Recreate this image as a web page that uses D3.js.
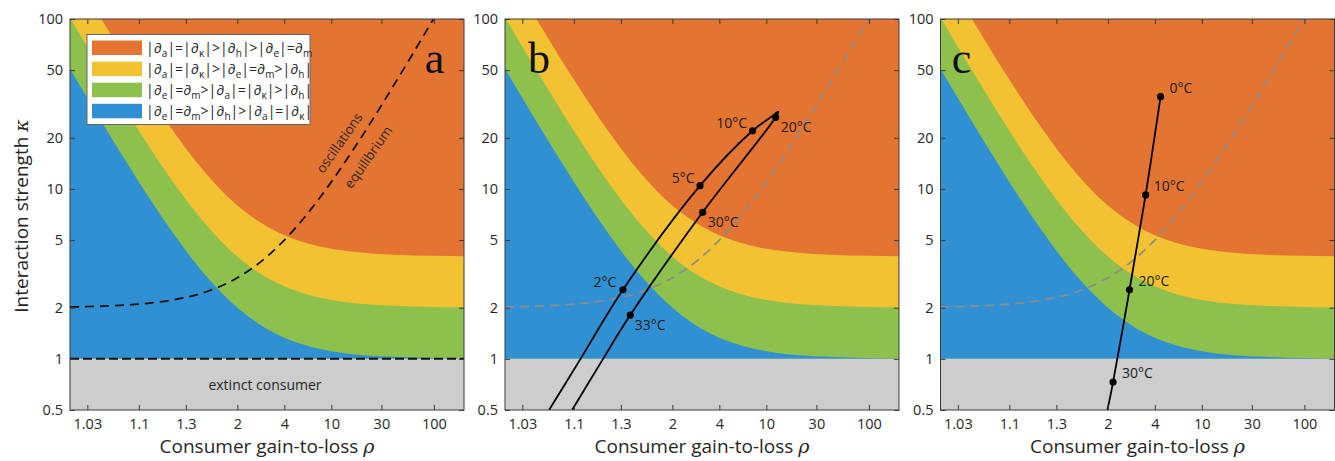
<!DOCTYPE html>
<html>
<head>
<meta charset="utf-8">
<script src="https://cdn.jsdelivr.net/npm/d3@7"></script>
<style>
  html, body { margin: 0; padding: 0; background: #fff; }
  svg { display: block; font-family: "Open Sans", "DejaVu Sans", sans-serif; }
</style>
</head>
<body>
<svg id="fig" width="1335" height="461"></svg>
<script>
// ---- regime boundaries (κ at sampled ρ) ----
const rhoGrid           = [1.02, 1.03, 1.05, 1.07, 1.1, 1.15, 1.2, 1.3, 1.5, 1.7, 2, 2.5, 3, 4, 6, 10, 20, 40, 100, 201];
const kappaBlueGreen    = [51, 34.3, 21, 15.3, 11, 7.67, 6, 4.33, 3, 2.43, 2, 1.67, 1.5, 1.33, 1.2, 1.11, 1.05, 1.03, 1.01, 1.005];
const kappaGreenYellow  = [102, 68.7, 42, 30.6, 22, 15.3, 12, 8.67, 6, 4.86, 4, 3.33, 3, 2.67, 2.4, 2.22, 2.1, 2.05, 2.02, 2.01];
const kappaYellowOrange = [204, 137, 84, 61, 44, 30.7, 24, 17.3, 12, 9.7, 8, 6.67, 6, 5.33, 4.8, 4.44, 4.21, 4.1, 4.04, 4.02];
const kappaExtinction   = 1;

// oscillation / equilibrium boundary
const hopfRho   = [1.02, 1.05, 1.1, 1.2, 1.3, 1.5, 1.7, 2, 2.5, 3, 4, 6, 10, 20, 40, 70, 100, 110];
const hopfKappa = [2.02, 2.05, 2.1, 2.2, 2.3, 2.5, 2.7, 3, 3.5, 4, 5, 7, 11, 21, 41, 71, 101, 111];

// temperature trajectory, panel b (cold branch up, warm branch down)
const trajBRho   = [1.056, 1.117, 1.315, 2.91, 7.52, 11.4, 12.9, 12.2, 3.03, 1.374, 1.198, 1.096];
const trajBKappa = [0.5, 1.0, 2.55, 10.45, 22.0, 26.9, 28.5, 26.4, 7.29, 1.81, 1.0, 0.5];
const trajBTemp  = [null, null, 2, 5, 10, null, null, 20, 30, 33, null, null];

// temperature trajectory, panel c
const trajCRho   = [4.43, 3.42, 2.66, 2.13, 1.99];
const trajCKappa = [34.9, 9.22, 2.55, 0.73, 0.5];
const trajCTemp  = [0, 10, 20, 30, null];

// axes
const xTickRho    = [1.03, 1.1, 1.3, 2, 4, 10, 30, 100];
const xTickLabels = ["1.03", "1.1", "1.3", "2", "4", "10", "30", "100"];
const yTickKappa  = [0.5, 1, 2, 5, 10, 20, 50, 100];
const yTickLabels = ["0.5", "1", "2", "5", "10", "20", "50", "100"];

// legend entries (∂_x marks a partial with subscript x)
const legendLabels = [
  "|∂_a|=|∂_κ|>|∂_h|>|∂_e|=∂_m",
  "|∂_a|=|∂_κ|>|∂_e|=∂_m>|∂_h|",
  "|∂_e|=∂_m>|∂_a|=|∂_κ|>|∂_h|",
  "|∂_e|=∂_m>|∂_h|>|∂_a|=|∂_κ|"
];

// ---- styling ----
const C = {
  orange: "#E47431", yellow: "#F3C233", green: "#8DC04C", blue: "#3190D1",
  gray: "#CDCDCD", axis: "#3a3a3a", text: "#262626"
};
const legendColors = [C.orange, C.yellow, C.green, C.blue];

const W = 394, plotTop = 19, plotBottom = 410;
const panels = [
  { key: "a", left: 70,    letterX: 364.5 },
  { key: "b", left: 505,   letterX: 34 },
  { key: "c", left: 940.5, letterX: 21 }
];

// label offsets for temperature markers
const labelOffsets = {
  b: { 2: [-6.5, -8, "end"], 5: [-5.5, -8, "end"], 10: [-5.5, -8, "end"],
       20: [5, 10, "start"], 30: [5, 9.5, "start"], 33: [4.5, 10, "start"] },
  c: { 0: [9, -9, "start"], 10: [8, -8.5, "start"], 20: [9, -8.5, "start"], 30: [9, -9, "start"] }
};

const svg = d3.select("#fig");

// x axis is logarithmic in (ρ − 1)
const xLog = d3.scaleLog().domain([0.02, 200]).range([0, W]);
const y = d3.scaleLog().domain([0.5, 100]).range([plotBottom, plotTop]);
const X = rho => xLog(rho - 1);

const grid = rhoGrid.map((r, i) => ({ r, b1: kappaBlueGreen[i], b2: kappaGreenYellow[i], b3: kappaYellowOrange[i] }));

panels.forEach(p => {
  const g = svg.append("g").attr("transform", `translate(${p.left},0)`);
  const clipId = "clip-" + p.key;
  g.append("clipPath").attr("id", clipId)
    .append("rect").attr("x", 0).attr("y", plotTop).attr("width", W).attr("height", plotBottom - plotTop);
  const plot = g.append("g").attr("clip-path", `url(#${clipId})`);

  // background regime (orange), then bands stacked from κ = 1
  plot.append("rect").attr("x", 0).attr("y", plotTop).attr("width", W).attr("height", plotBottom - plotTop).attr("fill", C.orange);
  const band = key => d3.area().x(d => X(d.r)).y0(y(kappaExtinction)).y1(d => y(d[key])).curve(d3.curveMonotoneX);
  plot.append("path").datum(grid).attr("d", band("b3")).attr("fill", C.yellow);
  plot.append("path").datum(grid).attr("d", band("b2")).attr("fill", C.green);
  plot.append("path").datum(grid).attr("d", band("b1")).attr("fill", C.blue);
  plot.append("rect").attr("x", 0).attr("y", y(kappaExtinction)).attr("width", W)
    .attr("height", plotBottom - y(kappaExtinction)).attr("fill", C.gray);

  // oscillation boundary
  const hopf = hopfRho.map((r, i) => [X(r), y(hopfKappa[i])]);
  plot.append("path").datum(hopf).attr("d", d3.line().curve(d3.curveMonotoneX))
    .attr("fill", "none")
    .attr("stroke", p.key === "a" ? "#111" : "#8c8c8c")
    .attr("stroke-width", 1.8)
    .attr("stroke-dasharray", "9,6");

  if (p.key === "a") {
    plot.append("line").attr("x1", 0).attr("x2", W).attr("y1", y(kappaExtinction)).attr("y2", y(kappaExtinction))
      .attr("stroke", "#111").attr("stroke-width", 2).attr("stroke-dasharray", "9,4");
    plot.append("text").attr("x", W / 2 - 2).attr("y", 390).attr("text-anchor", "middle")
      .attr("font-size", 14).attr("fill", C.text).text("extinct consumer");
    const ang = -55;
    [["oscillations", 11.8, 18.7], ["equilibrium", 22.2, 15.4]].forEach(([t, r, k]) => {
      plot.append("text").attr("text-anchor", "middle").attr("dominant-baseline", "central")
        .attr("transform", `translate(${X(r)},${y(k)}) rotate(${ang})`)
        .attr("font-size", 13.5).attr("fill", "#2a2a2a").text(t);
    });
  }

  // temperature trajectories
  const traj = p.key === "b" ? { r: trajBRho, k: trajBKappa, t: trajBTemp }
             : p.key === "c" ? { r: trajCRho, k: trajCKappa, t: trajCTemp } : null;
  if (traj) {
    const pts = traj.r.map((r, i) => [X(r), y(traj.k[i])]);
    plot.append("path").datum(pts)
      .attr("d", d3.line().curve(d3.curveCatmullRom.alpha(0.5)))
      .attr("fill", "none").attr("stroke", "#000").attr("stroke-width", 1.8);
    traj.t.forEach((t, i) => {
      if (t === null) return;
      const [px, py] = pts[i];
      plot.append("circle").attr("cx", px).attr("cy", py).attr("r", 3.6).attr("fill", "#000");
      const [dx, dy, anchor] = labelOffsets[p.key][t];
      plot.append("text").attr("x", px + dx).attr("y", py + dy + 5).attr("text-anchor", anchor)
        .attr("font-size", 14).attr("fill", "#1a1a1a").text(t + "°C");
    });
  }

  // panel letter
  g.append("text").attr("x", p.letterX).attr("y", 73).attr("text-anchor", "middle")
    .attr("font-family", "'Liberation Serif', 'Times New Roman', serif")
    .attr("font-size", 44).attr("fill", "#111").text(p.key);

  // axes: box with inward ticks on all sides
  const xTickVals = xTickRho.map(r => r - 1);
  g.append("g").attr("transform", `translate(0,${plotBottom})`)
    .call(d3.axisBottom(xLog).tickValues(xTickVals).tickFormat((d, i) => xTickLabels[i])
      .tickSizeInner(-5).tickSizeOuter(0).tickPadding(9));
  g.append("g").attr("transform", `translate(0,${plotTop})`)
    .call(d3.axisTop(xLog).tickValues(xTickVals).tickFormat("").tickSizeInner(-5).tickSizeOuter(0));
  g.append("g")
    .call(d3.axisLeft(y).tickValues(yTickKappa).tickFormat((d, i) => yTickLabels[i])
      .tickSizeInner(-5).tickSizeOuter(0).tickPadding(7));
  g.append("g").attr("transform", `translate(${W},0)`)
    .call(d3.axisRight(y).tickValues(yTickKappa).tickFormat("").tickSizeInner(-5).tickSizeOuter(0));
  g.selectAll(".domain").remove();
  g.selectAll(".tick line").attr("stroke", C.axis);
  g.selectAll(".tick text").attr("font-family", "'Open Sans', sans-serif").attr("font-size", 14.5).attr("fill", C.text);
  g.append("rect").attr("x", 0).attr("y", plotTop).attr("width", W).attr("height", plotBottom - plotTop)
    .attr("fill", "none").attr("stroke", C.axis).attr("stroke-width", 1);

  // x label
  const xl = g.append("text").attr("x", W / 2).attr("y", 453).attr("text-anchor", "middle")
    .attr("font-size", 19).attr("fill", C.text);
  xl.append("tspan").text("Consumer gain-to-loss ");
  xl.append("tspan").attr("font-family", "'DejaVu Serif', serif").attr("font-style", "italic").text("ρ");

  // legend (panel a)
  if (p.key === "a") {
    const lg = g.append("g").attr("transform", "translate(17,34.5)");
    lg.append("rect").attr("width", 223).attr("height", 90).attr("fill", "#fff")
      .attr("stroke", "#666").attr("stroke-width", 1);
    legendLabels.forEach((lab, i) => {
      const yy = 6 + i * 21.1;
      lg.append("rect").attr("x", 5).attr("y", yy).attr("width", 50).attr("height", 14.5).attr("fill", legendColors[i]);
      const t = lg.append("text").attr("x", 59).attr("y", yy + 12).attr("font-size", 14).attr("fill", C.text);
      const parts = lab.split(/(∂_.)/).filter(s => s.length);
      let shifted = false;
      parts.forEach(s => {
        if (s.startsWith("∂_")) {
          t.append("tspan").attr("dy", shifted ? -4 : null).attr("font-style", "italic").text("∂");
          t.append("tspan").attr("dy", 4).attr("font-size", 10).text(s[2]);
          shifted = true;
        } else {
          t.append("tspan").attr("dy", shifted ? -4 : null).text(s);
          shifted = false;
        }
      });
    });
  }
});

// y label
const yl = svg.append("text").attr("transform", "translate(28,216) rotate(-90)")
  .attr("text-anchor", "middle").attr("font-size", 19).attr("fill", C.text);
yl.append("tspan").text("Interaction strength ");
yl.append("tspan").attr("font-family", "'DejaVu Serif', serif").attr("font-style", "italic").text("κ");
</script>
</body>
</html>
